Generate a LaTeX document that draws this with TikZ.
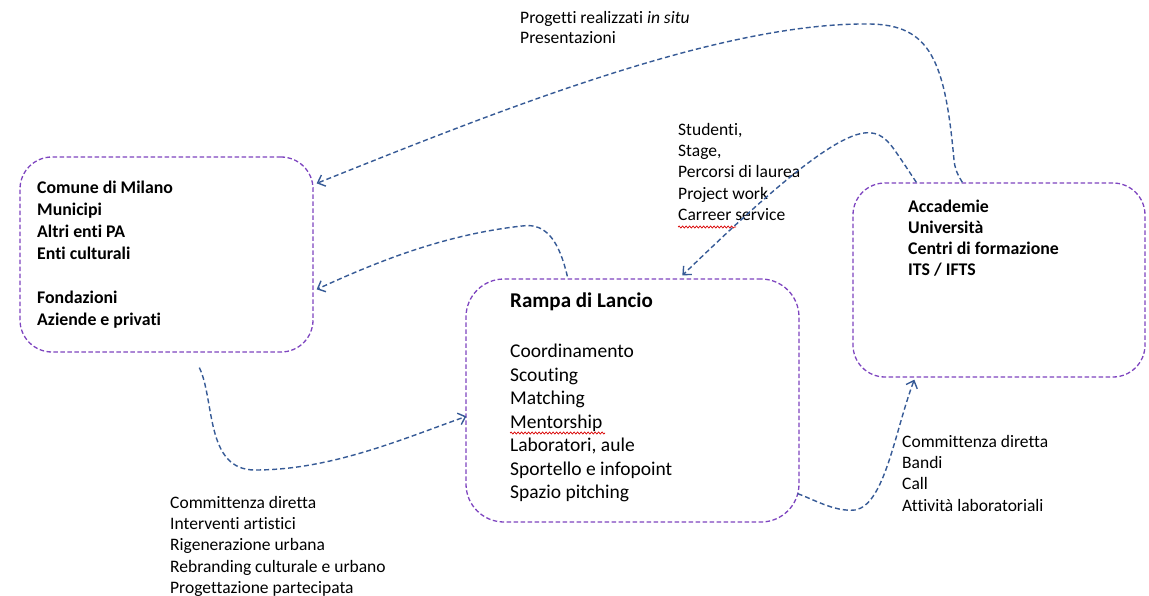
\documentclass[tikz,border=0pt]{standalone}
\usepackage{fontspec}
\setmainfont{Carlito}[Ligatures=NoCommon]
\usetikzlibrary{arrows.meta,calc,decorations.pathmorphing}
\definecolor{boxpurple}{HTML}{7E45C0}
\definecolor{arrowblue}{HTML}{365A96}
\begin{document}
\begin{tikzpicture}[x=1pt,y=-1pt,
  box/.style={draw=boxpurple, line width=1.3pt, dash pattern=on 4.5pt off 2.5pt, rounded corners=32pt, inner sep=0pt},
  link/.style={draw=arrowblue, line width=1.4pt, dash pattern=on 5pt off 3pt, -{Straight Barb[length=6.5pt,width=12pt,line width=1.4pt]}},
  boxtext/.style={anchor=north west, inner sep=0pt, align=left, font=\bfseries\fontsize{17.8}{22}\selectfont},
  lbl/.style={anchor=north west, inner sep=0pt, align=left, font=\fontsize{17.5}{21.3}\selectfont},
  squiggle/.style={draw=red!85!black, line width=0.7pt, decorate, decoration={snake, amplitude=1pt, segment length=3.5pt}}
]
\useasboundingbox (0,0) rectangle (1149,596);
\fill[white] (0,0) rectangle (1149,596);

% boxes
\node[box, minimum width=293pt, minimum height=195pt] (L) at (166.5,254.5) {};
\node[box, minimum width=333pt, minimum height=243pt, rounded corners=38pt] (R) at (632.5,400.5) {};
\node[box, minimum width=292pt, minimum height=194pt] (A) at (999,280) {};

% box texts
\node[boxtext] (Ltxt) at (37,181) {Comune di Milano\\Municipi\\Altri enti PA\\Enti culturali\\[22pt]Fondazioni\\Aziende e privati};
\node[anchor=north west, inner sep=0pt, font=\bfseries\fontsize{21}{24}\selectfont] (Rtitle) at (510,293) {Rampa di Lancio};
\node[anchor=north west, inner sep=0pt, align=left, font=\fontsize{19.5}{23.5}\selectfont] (Rtxt) at (510,344) {Coordinamento\\Scouting\\Matching\\Mentorship\\Laboratori, aule\\Sportello e infopoint\\Spazio pitching};
\node[boxtext, font=\bfseries\fontsize{17.8}{21}\selectfont] (Atxt) at (908,200) {Accademie\\Università\\Centri di formazione\\ITS / IFTS};

% labels
\node[lbl, font=\fontsize{17.5}{20}\selectfont] (top) at (520,11) {Progetti realizzati \textit{in situ}\\Presentazioni};
\node[lbl] (stud) at (678,123) {Studenti,\\Stage,\\Percorsi di laurea\\Project work\\Carreer service};
\node[lbl] (bl) at (170,496) {Committenza diretta\\Interventi artistici\\Rigenerazione urbana\\Rebranding culturale e urbano\\Progettazione partecipata};
\node[lbl] (br) at (902,435) {Committenza diretta\\Bandi\\Call\\Attività laboratoriali};

% spell-check squiggles
\coordinate (sq1a) at (510,433); \coordinate (sq1b) at (605,433);
\coordinate (sq2a) at (678,227); \coordinate (sq2b) at (736,227);
\draw[squiggle] (sq1a) -- (sq1b);
\draw[squiggle] (sq2a) -- (sq2b);

% connectors
\coordinate (a1s) at ($(A.north west)+(110,0)$);
\coordinate (a1e) at ($(L.north east)+(3,27)$);
\draw[link] (a1s) .. controls (956,172) and (955,168) .. (954,160)
  .. controls (945,60) and (930,25) .. (870,24)
  .. controls (720,22) and (500,110) .. (a1e);

\coordinate (a2s) at ($(A.north west)+(64,0)$);
\coordinate (a2e) at ($(R.north west)+(217,-3)$);
\draw[link] (a2s) .. controls (912,176) and (905,165) .. (898,155)
  .. controls (888,140) and (880,131) .. (864,133)
  .. controls (825,138) and (740,220) .. (a2e);

\coordinate (a3s) at ($(R.north west)+(102,-2)$);
\coordinate (a3e) at ($(L.north east)+(3,133)$);
\draw[link] (a3s) .. controls (560,245) and (548,222) .. (522,226)
  .. controls (440,235) and (370,265) .. (a3e);

\coordinate (a4s) at ($(L.south west)+(180,15)$);
\coordinate (a4e) at ($(R.north west)+(1,138)$);
\draw[link] (a4s) .. controls (215,400) and (205,470) .. (255,470)
  .. controls (330,470) and (400,440) .. (a4e);

\coordinate (a5s) at ($(R.south east)+(-2,-29)$);
\coordinate (a5e) at ($(A.south west)+(62,2)$);
\draw[link] (a5s) .. controls (815,500) and (835,512) .. (855,510)
  .. controls (885,505) and (895,430) .. (a5e);
\end{tikzpicture}
\end{document}
